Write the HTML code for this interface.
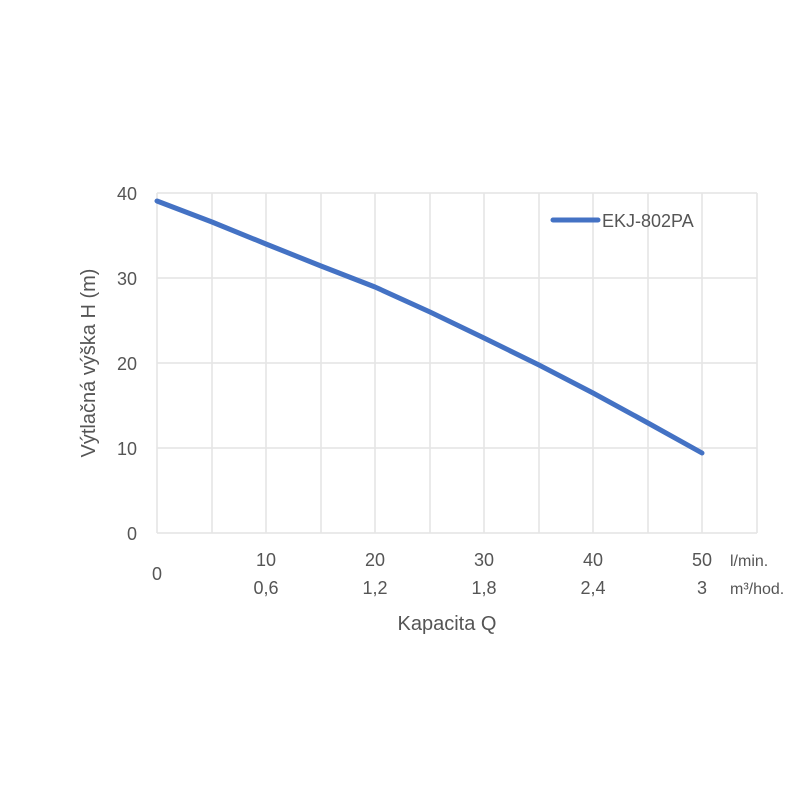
<!DOCTYPE html>
<html><head><style>body{margin:0;background:#fff}</style></head><body>
<svg width="800" height="800" xmlns="http://www.w3.org/2000/svg" font-family="Liberation Sans, sans-serif">
<rect width="800" height="800" fill="#fff"/>
<g stroke="#e4e4e4" stroke-width="1.5">
<line x1="157" y1="193" x2="757" y2="193"/>
<line x1="157" y1="278" x2="757" y2="278"/>
<line x1="157" y1="363" x2="757" y2="363"/>
<line x1="157" y1="448" x2="757" y2="448"/>
<line x1="157" y1="533" x2="757" y2="533"/>
<line x1="157" y1="193" x2="157" y2="533"/>
<line x1="212" y1="193" x2="212" y2="533"/>
<line x1="266" y1="193" x2="266" y2="533"/>
<line x1="321" y1="193" x2="321" y2="533"/>
<line x1="375" y1="193" x2="375" y2="533"/>
<line x1="430" y1="193" x2="430" y2="533"/>
<line x1="484" y1="193" x2="484" y2="533"/>
<line x1="539" y1="193" x2="539" y2="533"/>
<line x1="593" y1="193" x2="593" y2="533"/>
<line x1="648" y1="193" x2="648" y2="533"/>
<line x1="702" y1="193" x2="702" y2="533"/>
<line x1="757" y1="193" x2="757" y2="533"/>
</g>
<path d="M157,201 L212,222 L266,244 L321,266 L375,287 L430,312 L484,338 L539,365 L593,393 L648,423 L702,453" fill="none" stroke="#4472c4" stroke-width="5" stroke-linecap="round" stroke-linejoin="round"/>
<line x1="553" y1="220" x2="598" y2="220" stroke="#4472c4" stroke-width="5" stroke-linecap="round"/>
<text x="602" y="227" font-size="18" fill="#555">EKJ-802PA</text>
<g font-size="18" fill="#555" text-anchor="end">
<text x="137" y="200">40</text><text x="137" y="285">30</text><text x="137" y="370">20</text><text x="137" y="455">10</text><text x="137" y="540">0</text>
</g>
<g font-size="18" fill="#555" text-anchor="middle">
<text x="266" y="566">10</text><text x="375" y="566">20</text><text x="484" y="566">30</text><text x="593" y="566">40</text><text x="702" y="566">50</text>
<text x="157" y="580">0</text>
<text x="266" y="594">0,6</text><text x="375" y="594">1,2</text><text x="484" y="594">1,8</text><text x="593" y="594">2,4</text><text x="702" y="594">3</text>
<text x="447" y="630" font-size="20">Kapacita Q</text>
</g>
<text x="730" y="566" font-size="16" fill="#555">l/min.</text>
<text x="730" y="594" font-size="16" fill="#555">m³/hod.</text>
<text transform="translate(95,363) rotate(-90)" font-size="20" fill="#555" text-anchor="middle">Výtlačná výška H (m)</text>
</svg>
</body></html>
